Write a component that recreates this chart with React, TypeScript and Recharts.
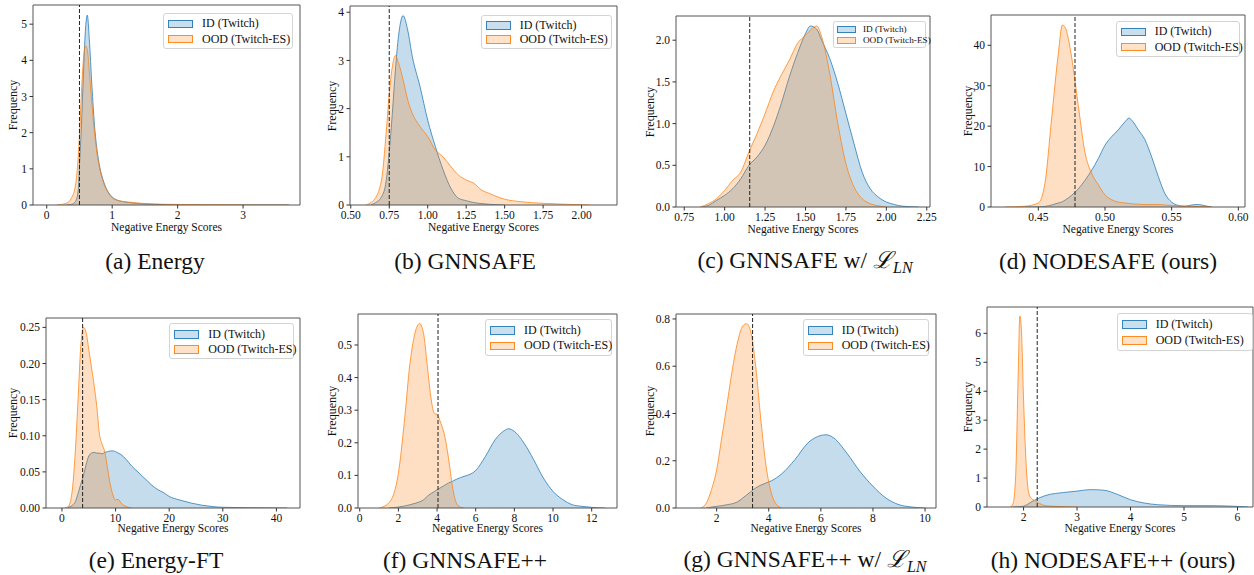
import React from "react";
import {
  ComposedChart,
  Area,
  XAxis,
  YAxis,
  ReferenceLine,
  ReferenceArea,
} from "recharts";

const FONT = "Liberation Serif";
const BLUE = "#1f77b4";
const ORANGE = "#ff7f0e";

// (a) Energy
const aX = [0.15, 0.3, 0.38, 0.44, 0.48, 0.5, 0.53, 0.56, 0.59, 0.62, 0.65, 0.69, 0.73, 0.77, 0.81, 0.86, 0.92, 1.0, 1.1, 1.25, 1.5, 1.8, 2.2, 2.7, 3.2, 3.7];
const aID = [null, 0, 0.02, 0.1, 0.4, 1.1, 2.2, 3.6, 4.8, 5.25, 4.6, 3.3, 2.2, 1.5, 1.05, 0.7, 0.42, 0.22, 0.12, 0.07, 0.03, 0.01, 0, 0, 0, 0];
const aOOD = [0, 0.05, 0.2, 0.55, 1.3, 1.9, 3.1, 4.0, 4.4, 4.3, 3.7, 2.8, 2.0, 1.4, 1.0, 0.65, 0.4, 0.2, 0.12, 0.08, 0.04, 0.02, 0.01, 0.005, 0, 0];

// (b) GNNSAFE
const bX = [0.6, 0.63, 0.65, 0.7, 0.73, 0.75, 0.77, 0.79, 0.81, 0.84, 0.87, 0.9, 0.95, 1.0, 1.05, 1.1, 1.15, 1.2, 1.25, 1.3, 1.35, 1.4, 1.5, 1.6, 1.75, 1.9, 2.05];
const bID = [null, 0, 0.03, 0.17, 0.5, 1.1, 1.9, 2.8, 3.5, 3.93, 3.63, 3.08, 2.46, 1.76, 1.21, 0.73, 0.35, 0.14, 0.09, 0.05, 0.03, 0.015, 0, null, null, null, null];
const bOOD = [0, 0.05, 0.1, 0.52, 1.5, 2.3, 2.87, 3.1, 2.95, 2.6, 2.18, 1.9, 1.63, 1.42, 1.14, 1.0, 0.8, 0.62, 0.52, 0.45, 0.31, 0.24, 0.12, 0.07, 0.035, 0.015, 0];

// (c) GNNSAFE w/ L_LN
const cX = [0.85, 0.9, 0.95, 1.0, 1.05, 1.1, 1.15, 1.2, 1.25, 1.3, 1.35, 1.4, 1.45, 1.5, 1.53, 1.57, 1.6, 1.65, 1.7, 1.75, 1.8, 1.85, 1.9, 1.95, 2.0, 2.05, 2.1, 2.2];
const cID = [0, 0.02, 0.08, 0.14, 0.22, 0.34, 0.5, 0.6, 0.74, 0.96, 1.24, 1.56, 1.84, 2.08, 2.17, 2.13, 2.0, 1.78, 1.48, 1.12, 0.76, 0.42, 0.22, 0.12, 0.06, 0.03, 0.01, 0];
const cOOD = [0, 0.04, 0.1, 0.2, 0.32, 0.42, 0.66, 0.88, 1.12, 1.38, 1.58, 1.76, 1.96, 2.06, 2.12, 2.17, 2.04, 1.6, 1.0, 0.52, 0.24, 0.1, 0.04, 0.015, 0, null, null, null];

// (d) NODESAFE
const dX = [0.425, 0.44, 0.45, 0.455, 0.46, 0.465, 0.468, 0.47, 0.475, 0.48, 0.485, 0.49, 0.495, 0.5, 0.505, 0.51, 0.515, 0.518, 0.52, 0.525, 0.53, 0.535, 0.54, 0.545, 0.55, 0.555, 0.56, 0.565, 0.57, 0.575, 0.58];
const dID = [null, 0, 0.05, 0.15, 0.5, 1.0, 1.3, 1.7, 2.9, 4.5, 6.6, 9.1, 12, 15.3, 17.4, 19.1, 21.1, 22, 21.5, 19.1, 16.6, 12.4, 7.5, 3.3, 1.2, 0.4, 0.2, 0.5, 0.6, 0.3, 0];
const dOOD = [0, 0.2, 1.0, 6, 22, 38, 45, 44.5, 37, 25, 13.5, 8.3, 5.5, 3.0, 1.8, 1.2, 1.0, 0.9, 0.8, 0.7, 0.6, 0.6, 0.6, 0.5, 0.4, 0.3, 0.2, 0.15, 0.1, 0.05, 0];

// (e) Energy-FT
const eX = [0.5, 1, 1.5, 2, 2.5, 3, 3.5, 4, 4.5, 5, 5.5, 6, 6.5, 7, 7.5, 8, 8.5, 9, 9.5, 10, 10.5, 11, 12, 13, 14, 15, 16, 17, 18, 19, 20, 22, 24, 26, 28, 30, 35, 40, 42];
const eID = [null, 0, 0.002, 0.004, 0.009, 0.02, 0.033, 0.045, 0.06, 0.072, 0.076, 0.077, 0.076, 0.076, 0.075, 0.077, 0.078, 0.079, 0.079, 0.078, 0.076, 0.074, 0.067, 0.058, 0.051, 0.044, 0.037, 0.03, 0.025, 0.021, 0.016, 0.011, 0.007, 0.004, 0.002, 0.001, 0.0004, 0.0001, 0];
const eOOD = [0, 0.001, 0.007, 0.03, 0.08, 0.15, 0.223, 0.25, 0.243, 0.22, 0.195, 0.17, 0.14, 0.102, 0.088, 0.077, 0.055, 0.033, 0.018, 0.011, 0.012, 0.007, 0.002, 0, null, null, null, null, null, null, null, null, null, null, null, null, null, null, null];

// (f) GNNSAFE++
const fX = [1.0, 1.5, 2, 2.3, 2.6, 2.9, 3.1, 3.3, 3.5, 3.7, 3.85, 4.0, 4.2, 4.4, 4.6, 4.8, 5.0, 5.2, 5.4, 6, 6.5, 7, 7.5, 7.7, 8, 8.5, 9, 9.5, 10, 10.5, 11, 11.5, 12, 12.7];
const fID = [null, 0, 0.003, 0.006, 0.01, 0.015, 0.019, 0.025, 0.036, 0.045, 0.05, 0.056, 0.063, 0.07, 0.077, 0.082, 0.088, 0.093, 0.097, 0.115, 0.158, 0.209, 0.238, 0.243, 0.235, 0.199, 0.148, 0.092, 0.051, 0.026, 0.01, 0.005, 0.002, 0];
const fOOD = [0, 0.015, 0.107, 0.26, 0.444, 0.546, 0.566, 0.536, 0.434, 0.332, 0.291, 0.286, 0.26, 0.22, 0.15, 0.065, 0.015, 0.003, 0, null, null, null, null, null, null, null, null, null, null, null, null, null, null, null];

// (g) GNNSAFE++ w/ L_LN
const gX = [1.4, 1.6, 1.8, 2.0, 2.2, 2.4, 2.6, 2.8, 3.0, 3.15, 3.3, 3.5, 3.7, 3.9, 4.1, 4.3, 4.5, 5, 5.5, 6, 6.2, 6.5, 7, 7.5, 8, 8.5, 9, 9.5, 10];
const gID = [null, 0, 0.004, 0.007, 0.01, 0.014, 0.018, 0.026, 0.042, 0.055, 0.068, 0.085, 0.097, 0.106, 0.115, 0.128, 0.145, 0.204, 0.275, 0.307, 0.31, 0.296, 0.232, 0.155, 0.092, 0.042, 0.014, 0.004, 0];
const gOOD = [0, 0.02, 0.077, 0.162, 0.3, 0.44, 0.585, 0.7, 0.77, 0.78, 0.75, 0.6, 0.37, 0.176, 0.063, 0.014, 0, null, null, null, null, null, null, null, null, null, null, null, null];

// (h) NODESAFE++
const hX = [1.75, 1.8, 1.85, 1.9, 1.93, 1.96, 2.0, 2.05, 2.1, 2.15, 2.2, 2.3, 2.4, 2.5, 2.6, 2.75, 3.0, 3.25, 3.5, 3.75, 4.0, 4.25, 4.5, 5.0, 5.5, 6.0, 6.2];
const hID = [null, 0, 0.005, 0.01, 0.015, 0.02, 0.03, 0.07, 0.12, 0.18, 0.23, 0.32, 0.39, 0.44, 0.47, 0.5, 0.55, 0.6, 0.58, 0.44, 0.25, 0.14, 0.08, 0.046, 0.046, 0.02, 0];
const hOOD = [0, 0.1, 1.0, 4.6, 6.6, 6.1, 3.7, 1.4, 0.46, 0.29, 0.23, 0.12, 0.05, 0.03, 0.02, 0.01, 0, null, null, null, null, null, null, null, null, null, null];

const thresholds = [0.5, 0.75, 1.155, 0.4775, 3.85, 4.05, 3.38, 2.255];

const legendLabels = ["ID (Twitch)", "OOD (Twitch-ES)"];

type PanelSpec = {
  xs: number[];
  id: (number | null)[];
  ood: (number | null)[];
  thr: number;
  frame: [number, number, number, number]; // left, right, top, bottom
  xDomain: [number, number];
  yMax: number;
  xTicks: number[];
  yTicks: number[];
  xDigits: number;
  yDigits: number;
  legend: [number, number, number, number, number]; // left, top, width, height, scale
  yLabelX: number;
  xLabelY: number;
};

const panels: PanelSpec[] = [
  {
    xs: aX, id: aID, ood: aOOD, thr: thresholds[0],
    frame: [33, 300, 5, 205], xDomain: [-0.21, 3.87], yMax: 5.53,
    xTicks: [0, 1, 2, 3], yTicks: [0, 1, 2, 3, 4, 5], xDigits: 0, yDigits: 0,
    legend: [163, 12.7, 130, 36.6, 1], yLabelX: 13, xLabelY: 228,
  },
  {
    xs: bX, id: bID, ood: bOOD, thr: thresholds[1],
    frame: [350, 617, 6, 205], xDomain: [0.495, 2.23], yMax: 4.13,
    xTicks: [0.5, 0.75, 1.0, 1.25, 1.5, 1.75, 2.0], yTicks: [0, 1, 2, 3, 4], xDigits: 2, yDigits: 0,
    legend: [480.7, 15, 131, 34.3, 1], yLabelX: 332, xLabelY: 228,
  },
  {
    xs: cX, id: cID, ood: cOOD, thr: thresholds[2],
    frame: [676, 930, 16, 207], xDomain: [0.699, 2.27], yMax: 2.29,
    xTicks: [0.75, 1.0, 1.25, 1.5, 1.75, 2.0, 2.25], yTicks: [0, 0.5, 1.0, 1.5, 2.0], xDigits: 2, yDigits: 1,
    legend: [832.7, 21, 93.3, 26.7, 0.77], yLabelX: 650, xLabelY: 230,
  },
  {
    xs: dX, id: dID, ood: dOOD, thr: thresholds[3],
    frame: [991, 1245, 15, 207], xDomain: [0.4145, 0.605], yMax: 47.5,
    xTicks: [0.45, 0.5, 0.55, 0.6], yTicks: [0, 10, 20, 30, 40], xDigits: 2, yDigits: 0,
    legend: [1115.7, 20.7, 124.3, 36.6, 1], yLabelX: 968, xLabelY: 230,
  },
  {
    xs: eX, id: eID, ood: eOOD, thr: thresholds[4],
    frame: [46, 300, 318, 508], xDomain: [-2.98, 44.4], yMax: 0.263,
    xTicks: [0, 10, 20, 30, 40], yTicks: [0, 0.05, 0.1, 0.15, 0.2, 0.25], xDigits: 0, yDigits: 2,
    legend: [169.3, 323.3, 124.7, 36, 1], yLabelX: 13, xLabelY: 529,
  },
  {
    xs: fX, id: fID, ood: fOOD, thr: thresholds[5],
    frame: [358, 617, 314, 508], xDomain: [-0.09, 13.31], yMax: 0.595,
    xTicks: [0, 2, 4, 6, 8, 10, 12], yTicks: [0, 0.1, 0.2, 0.3, 0.4, 0.5], xDigits: 0, yDigits: 1,
    legend: [485, 319.3, 126.7, 36.7, 1], yLabelX: 332, xLabelY: 529,
  },
  {
    xs: gX, id: gID, ood: gOOD, thr: thresholds[6],
    frame: [676, 936, 314, 508], xDomain: [0.44, 10.42], yMax: 0.821,
    xTicks: [2, 4, 6, 8, 10], yTicks: [0, 0.2, 0.4, 0.6, 0.8], xDigits: 0, yDigits: 1,
    legend: [802.7, 319.3, 126.6, 36.7, 1], yLabelX: 650, xLabelY: 529,
  },
  {
    xs: hX, id: hID, ood: hOOD, thr: thresholds[7],
    frame: [987, 1253, 307, 507], xDomain: [1.316, 6.29], yMax: 6.91,
    xTicks: [2, 3, 4, 5, 6], yTicks: [0, 1, 2, 3, 4, 5, 6], xDigits: 0, yDigits: 0,
    legend: [1116.7, 313.3, 136, 37.4, 1], yLabelX: 968, xLabelY: 529,
  },
];

const captions: { cx: number; cy: number; text: string; ln?: boolean }[] = [
  { cx: 155, cy: 262, text: "(a) Energy" },
  { cx: 465, cy: 262, text: "(b) GNNSAFE" },
  { cx: 805, cy: 262, text: "(c) GNNSAFE w/ ", ln: true },
  { cx: 1108, cy: 262, text: "(d) NODESAFE (ours)" },
  { cx: 156, cy: 561, text: "(e) Energy-FT" },
  { cx: 465, cy: 561, text: "(f) GNNSAFE++" },
  { cx: 805, cy: 561, text: "(g) GNNSAFE++ w/ ", ln: true },
  { cx: 1113, cy: 561, text: "(h) NODESAFE++ (ours)" },
];

const tickStyle = { fontSize: 11.5, fill: "#111", fontFamily: FONT };

function Panel({ p }: { p: PanelSpec }) {
  const data = p.xs.map((x, i) => ({ x, id: p.id[i], ood: p.ood[i] }));
  const [L, R, T, B] = p.frame;
  const ml = 45;
  const mt = 5;
  const mr = 14;
  const xh = 30;
  const w = R - L + ml + mr;
  const h = B - T + mt + xh;
  return (
    <div style={{ position: "absolute", left: L - ml, top: T - mt }}>
      <ComposedChart width={w} height={h} data={data} margin={{ top: mt, right: mr, left: 0, bottom: 0 }}>
        <XAxis
          type="number"
          dataKey="x"
          domain={p.xDomain}
          allowDataOverflow
          ticks={p.xTicks}
          interval={0}
          tickFormatter={(v: number) => v.toFixed(p.xDigits)}
          height={xh}
          tickSize={3.5}
          tickMargin={2}
          axisLine={false}
          tickLine={{ stroke: "#333" }}
          tick={tickStyle}
        />
        <YAxis
          type="number"
          domain={[0, p.yMax]}
          allowDataOverflow
          ticks={p.yTicks}
          interval={0}
          tickFormatter={(v: number) => v.toFixed(p.yDigits)}
          width={ml}
          tickSize={3.5}
          tickMargin={2.5}
          axisLine={false}
          tickLine={{ stroke: "#333" }}
          tick={tickStyle}
        />
        <Area
          type="monotone"
          dataKey="id"
          fill={BLUE}
          fillOpacity={0.26}
          stroke={BLUE}
          strokeOpacity={0.75}
          strokeWidth={1}
          dot={false}
          activeDot={false}
          isAnimationActive={false}
        />
        <Area
          type="monotone"
          dataKey="ood"
          fill={ORANGE}
          fillOpacity={0.25}
          stroke={ORANGE}
          strokeOpacity={0.75}
          strokeWidth={1}
          dot={false}
          activeDot={false}
          isAnimationActive={false}
        />
        <ReferenceLine x={p.thr} stroke="#222" strokeWidth={1} strokeDasharray="4 2" />
        <ReferenceArea
          x1={p.xDomain[0]}
          x2={p.xDomain[1]}
          y1={0}
          y2={p.yMax}
          fill="none"
          stroke="#555"
          strokeWidth={1}
          ifOverflow="visible"
        />
      </ComposedChart>
    </div>
  );
}

function LegendBox({ p }: { p: PanelSpec }) {
  const [left, top, width, height, s] = p.legend;
  const colors = [BLUE, ORANGE];
  return (
    <div
      style={{
        position: "absolute",
        left,
        top,
        width,
        height,
        boxSizing: "border-box",
        border: "1px solid #d4d4d4",
        borderRadius: 3 * s,
        background: "rgba(255,255,255,0.8)",
        padding: `${2.5 * s}px ${4 * s}px`,
        fontSize: 12 * s,
        fontFamily: FONT,
        color: "#111",
      }}
    >
      {legendLabels.map((label, i) => (
        <div key={label} style={{ display: "flex", alignItems: "center", height: (height - 6 * s) / 2 }}>
          <span
            style={{
              display: "inline-block",
              width: 25 * s,
              height: 8.5 * s,
              boxSizing: "border-box",
              background: i === 0 ? "rgba(31,119,180,0.26)" : "rgba(255,127,14,0.25)",
              border: `1px solid ${colors[i]}`,
              opacity: 0.9,
              marginRight: 9 * s,
              flexShrink: 0,
            }}
          />
          <span style={{ whiteSpace: "nowrap" }}>{label}</span>
        </div>
      ))}
    </div>
  );
}

const centered: React.CSSProperties = {
  position: "absolute",
  whiteSpace: "nowrap",
  fontFamily: FONT,
  color: "#111",
  lineHeight: 1,
};

export default function App() {
  return (
    <div style={{ position: "absolute", left: 0, top: 0, width: 1254, height: 575, background: "#fff", fontFamily: FONT }}>
      {panels.map((p, i) => (
        <React.Fragment key={i}>
          <Panel p={p} />
          <LegendBox p={p} />
          <div
            style={{
              ...centered,
              fontSize: 11.5,
              left: (p.frame[0] + p.frame[1]) / 2,
              top: p.xLabelY,
              transform: "translate(-50%, -50%)",
            }}
          >
            Negative Energy Scores
          </div>
          <div
            style={{
              ...centered,
              fontSize: 12,
              left: p.yLabelX,
              top: (p.frame[2] + p.frame[3]) / 2,
              transform: "translate(-50%, -50%) rotate(-90deg)",
            }}
          >
            Frequency
          </div>
        </React.Fragment>
      ))}
      {captions.map((c) => (
        <div
          key={c.text}
          style={{ ...centered, fontSize: 23.5, left: c.cx, top: c.cy, transform: "translate(-50%, -50%)" }}
        >
          {c.text}
          {c.ln && (
            <span style={{ fontStyle: "italic" }}>
              ℒ<sub style={{ fontSize: 16, verticalAlign: "-5px" }}>LN</sub>
            </span>
          )}
        </div>
      ))}
    </div>
  );
}
